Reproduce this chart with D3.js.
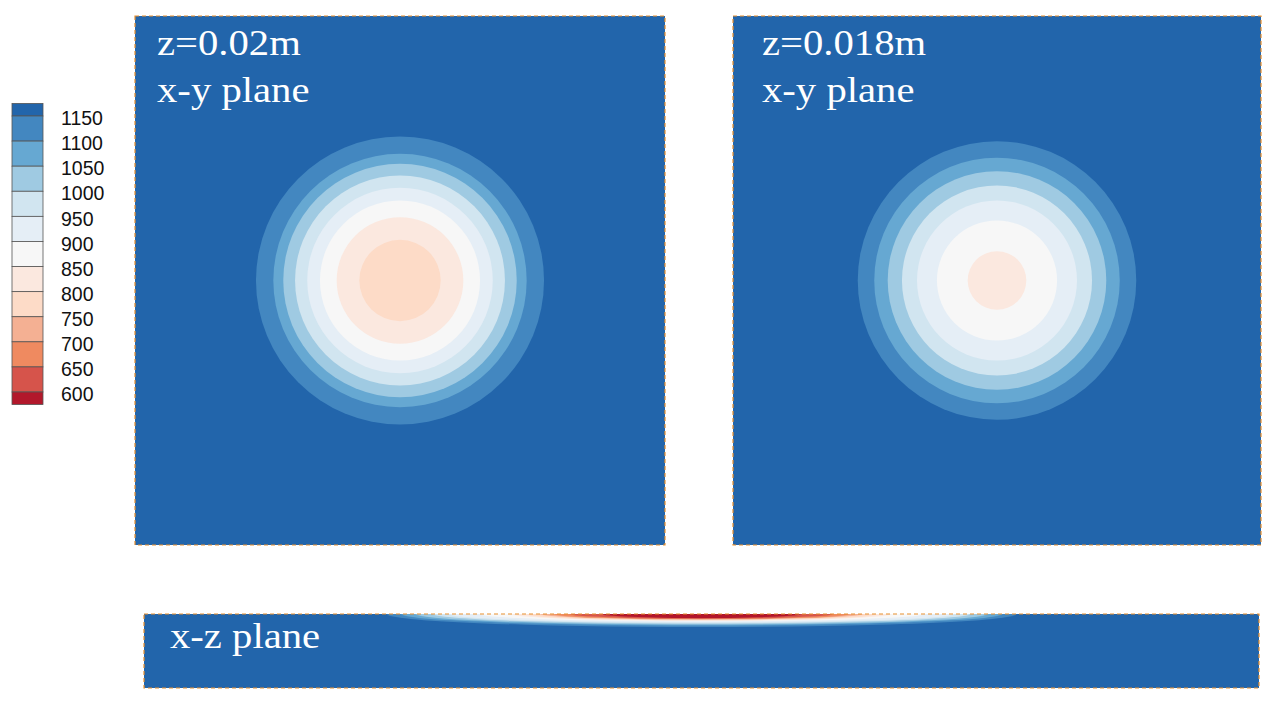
<!DOCTYPE html>
<html>
<head>
<meta charset="utf-8">
<script src="https://cdn.jsdelivr.net/npm/d3@7"></script>
<style>
  body { margin: 0; background: #fff; }
  svg { display: block; }
  .lbl { font-family: "Liberation Serif", "Times New Roman", serif; fill: #fff; }
  .leg { font-family: "Liberation Sans", Arial, sans-serif; fill: #111; }
</style>
</head>
<body>
<svg id="chart" width="1272" height="703"></svg>
<script>
// contour levels (K), top to bottom of the legend
const levels = [1150, 1100, 1050, 1000, 950, 900, 850, 800, 750, 700, 650, 600];
// band colours: above 1150, 1100-1150, ... , below 600
const bandColors = ['#2265ab', '#4387c0', '#66a8d2', '#9fcae2', '#d1e5f0', '#e5eef6',
  '#f7f7f7', '#fbe8df', '#fddbc7', '#f4b093', '#ef8a60', '#d6544b', '#b2182b'];

// x-y plane at z=0.02 m : radius (mm) of each isotherm
const levelsTop = [1150, 1100, 1050, 1000, 950, 900, 850, 800];
const radiusTop = [10.87, 9.56, 8.81, 7.92, 7.0, 6.04, 4.78, 3.07];
// x-y plane at z=0.018 m
const levelsMid = [1150, 1100, 1050, 1000, 950, 900, 850];
const radiusMid = [10.55, 9.3, 8.28, 7.2, 6.06, 4.55, 2.22];
// x-z plane : half length (mm) and depth from the surface (mm) of each isotherm
const levelsXZ = levels;
const halfLenXZ = [23.7, 22.6, 21.5, 20.2, 19.0, 16.7, 14.3, 13.2, 12.2, 11.2, 9.9, 7.5];
const depthXZ = [3.5, 3.1, 2.85, 2.55, 2.3, 2.0, 1.85, 1.7, 1.5, 1.4, 1.27, 1.08];

const svg = d3.select('#chart');
const colorOf = lv => bandColors[levels.indexOf(lv) + 1];
const border = '#e8902f';

// white serif label, a little wider than the font's normal width
function label (g, x, y, txt) {
  g.append('text').attr('class', 'lbl').attr('x', x).attr('y', y)
    .attr('font-size', 36)
    .attr('transform', `translate(${x},0) scale(1.13,1) translate(${-x},0)`)
    .text(txt);
}

function frame (g, x0, y0, w, h) {
  g.append('rect').attr('x', x0).attr('y', y0).attr('width', w).attr('height', h)
    .attr('fill', 'none').attr('stroke', border).attr('stroke-width', 1.2)
    .attr('stroke-dasharray', '4,3');
}

function xyPanel (x0, x1, y0, y1, lv, radii, title, tx) {
  const x = d3.scaleLinear().domain([-20, 20]).range([x0, x1]);
  const y = d3.scaleLinear().domain([-20, 20]).range([y1, y0]);
  const g = svg.append('g');
  g.append('rect').attr('x', x0).attr('y', y0).attr('width', x1 - x0).attr('height', y1 - y0)
    .attr('fill', bandColors[0]);
  g.selectAll('circle').data(lv.map((l, i) => ({ l, r: radii[i] })))
    .join('circle')
    .attr('cx', x(0)).attr('cy', y(0))
    .attr('r', d => x(d.r) - x(0))
    .attr('fill', d => colorOf(d.l));
  frame(g, x0, y0, x1 - x0, y1 - y0);
  label(g, tx, 55, title);
  label(g, tx, 102, 'x-y plane');
}

xyPanel(135, 665, 16, 545, levelsTop, radiusTop, 'z=0.02m', 157);
xyPanel(733, 1261, 16, 545, levelsMid, radiusMid, 'z=0.018m', 762);

// x-z strip
const sx = d3.scaleLinear().domain([-42, 42]).range([144, 1259]);
const sz = d3.scaleLinear().domain([0, 20]).range([688, 614]);
svg.append('clipPath').attr('id', 'stripClip')
  .append('rect').attr('x', 144).attr('y', 614).attr('width', 1115).attr('height', 74);
svg.append('filter').attr('id', 'soft')
  .append('feGaussianBlur').attr('stdDeviation', '1.2,0.5');
const strip = svg.append('g').attr('clip-path', 'url(#stripClip)');
strip.append('rect').attr('x', 144).attr('y', 614).attr('width', 1115).attr('height', 74)
  .attr('fill', bandColors[0]);
strip.append('g').attr('filter', 'url(#soft)')
  .selectAll('ellipse').data(levelsXZ.map((l, i) => ({ l, a: halfLenXZ[i], b: depthXZ[i] })))
  .join('ellipse')
  .attr('cx', sx(0)).attr('cy', sz(20))
  .attr('rx', d => sx(d.a) - sx(0))
  .attr('ry', d => sz(20 - d.b) - sz(20))
  .attr('fill', d => colorOf(d.l));
frame(svg, 144, 614, 1115, 74);
label(svg, 170, 648, 'x-z plane');

// legend
const ly = d3.scaleLinear().domain([1150, 600]).range([116, 392]);
const step = ly(1100) - ly(1150);
const leg = svg.append('g');
leg.selectAll('rect').data(bandColors).join('rect')
  .attr('x', 12).attr('width', 31)
  .attr('y', (c, i) => i === 0 ? ly(1150) - step / 2 : ly(levels[i - 1]))
  .attr('height', (c, i) => (i === 0 || i === bandColors.length - 1) ? step / 2 : step)
  .attr('fill', c => c)
  .attr('stroke', '#555').attr('stroke-width', 0.8);
leg.selectAll('text').data(levels).join('text')
  .attr('class', 'leg')
  .attr('x', 61).attr('y', d => ly(d) + 4)
  .attr('dominant-baseline', 'middle')
  .attr('font-size', 19.5)
  .text(d => d);
</script>
</body>
</html>
